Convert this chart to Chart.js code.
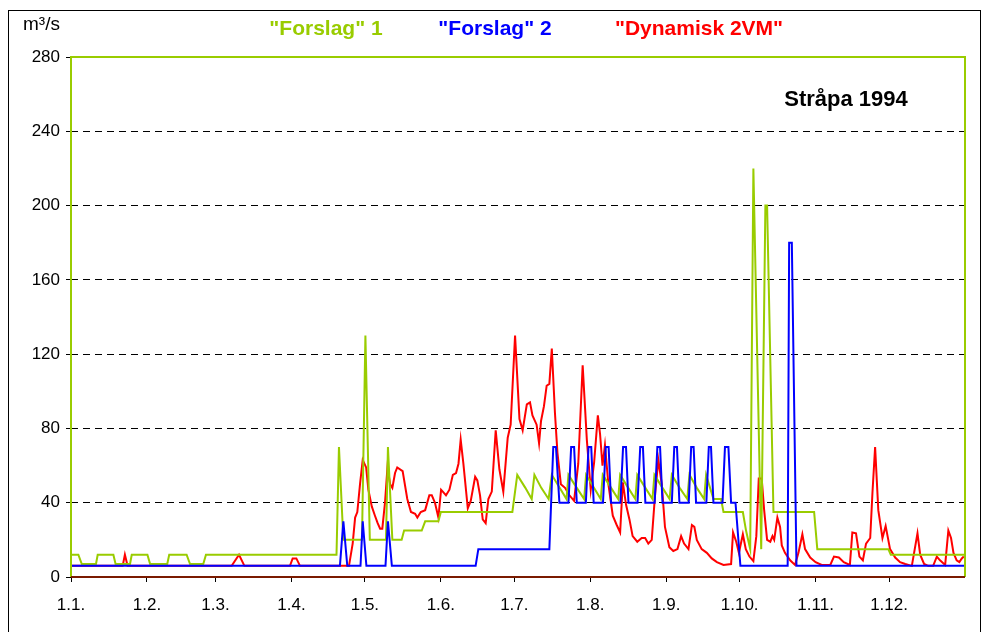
<!DOCTYPE html>
<html>
<head>
<meta charset="utf-8">
<script src="https://cdn.jsdelivr.net/npm/chart.js@4/dist/chart.umd.min.js"></script>
<style>
  body { margin: 0; background: #fff; }
  #wrap { width: 989px; height: 632px; }
</style>
</head>
<body>
<div id="wrap"><canvas id="myChart" width="989" height="632"></canvas></div>
<script>
// day of year (0 = 1.1.) and discharge m3/s
const monthStarts = [0, 31, 59, 90, 120, 151, 181, 212, 243, 273, 304, 334];
const monthLabels = ['1.1.', '1.2.', '1.3.', '1.4.', '1.5.', '1.6.', '1.7.', '1.8.', '1.9.', '1.10.', '1.11.', '1.12.'];
const yTicks = [0, 40, 80, 120, 160, 200, 240, 280];
const seriesNames = ['"Forslag" 1', '"Forslag" 2', '"Dynamisk 2VM"'];

const forslag1 = [
  [0, 12], [3, 12], [4.4, 7], [10.2, 7], [10.9, 12], [17.3, 12], [18.2, 7], [24.1, 7], [24.8, 12],
  [31.2, 12], [32.3, 7], [39.3, 7], [40.1, 12], [47.2, 12], [48.6, 7], [54, 7], [55.1, 12],
  [108.4, 12], [109.4, 70], [111.2, 20], [118.8, 20], [120.2, 130], [122, 20], [128.6, 20],
  [129.4, 70], [131.2, 20], [135, 20], [136, 25], [143.2, 25], [144.6, 30], [150, 30], [151, 35],
  [180.2, 35], [182.2, 55], [185.5, 48], [188.1, 42], [189.2, 55], [192, 48], [195, 42],
  [196.3, 55], [199.5, 48], [202.3, 42], [203.1, 55], [206.5, 48], [209.5, 42], [210.3, 55],
  [213.5, 48], [216.3, 42], [217.1, 55], [220.5, 48], [223.4, 42], [224.2, 55], [227.5, 48],
  [230.4, 42], [231.2, 55], [234.5, 48], [237.4, 42], [238.2, 55], [241.5, 48], [244.4, 42],
  [245.3, 55], [248.5, 48], [251.6, 42], [252.5, 55], [255.5, 48], [258.5, 42], [259.3, 55],
  [262.3, 42], [265.4, 42], [266.4, 35], [274.3, 35], [275.6, 25], [277.3, 15], [278.6, 220],
  [281.8, 15], [283.5, 200], [284.2, 200], [286.8, 35], [303.4, 35], [304.7, 15], [333.7, 15],
  [334.7, 12], [365, 12]
];

const forslag2 = [
  [0, 6], [109.8, 6], [111.2, 30], [112.8, 6], [118.2, 6], [119.1, 30], [120.6, 6], [128.4, 6],
  [129.4, 30], [131, 6], [165.2, 6], [166.3, 15], [195.3, 15], [196.9, 70], [198, 70], [199.4, 40],
  [203.1, 40], [204.2, 70], [205.4, 70], [206.5, 40], [210.2, 40], [211.3, 70], [212.4, 70],
  [213.4, 40], [217.2, 40], [218.3, 70], [219.5, 70], [220.5, 40], [224.3, 40], [225.4, 70],
  [226.6, 70], [227.6, 40], [231.3, 40], [232.4, 70], [233.5, 70], [234.5, 40], [238.3, 40],
  [239.4, 70], [240.5, 70], [241.5, 40], [245.3, 40], [246.3, 70], [247.4, 70], [248.4, 40],
  [252.2, 40], [253.2, 70], [254.2, 70], [255.2, 40], [259.4, 40], [260.4, 70], [261.3, 70],
  [262.3, 40], [266, 40], [267, 70], [268.4, 70], [269.5, 40], [271.3, 40], [273.3, 6],
  [292.6, 6], [293.2, 180], [294.3, 180], [296.2, 6], [365, 6]
];

const dynamisk = [
  [0, 6], [21.1, 6], [22, 12], [23.1, 6], [65.6, 6], [68.6, 12], [70.8, 6], [89.4, 6], [90.5, 10],
  [92, 10], [93.5, 6], [113.5, 6], [115, 18], [116, 32], [116.9, 35], [118, 50], [119.1, 63],
  [120.5, 59], [121.4, 47], [122.8, 38], [124.1, 33], [125.2, 29], [126.2, 26], [127.1, 26],
  [128.2, 40], [129.2, 59], [130.3, 50], [131.2, 48], [132.3, 56], [133.2, 59], [135.4, 57],
  [137.3, 42], [138.8, 35], [140.5, 34], [141.4, 32], [142.8, 35], [144.6, 36], [146.3, 44],
  [147.3, 44], [148.6, 40], [150, 32], [151.1, 47], [151.8, 46], [153.1, 44], [154.5, 47],
  [155.9, 55], [157.2, 56], [158.2, 61], [159.1, 74], [160.2, 61], [162, 37], [163.2, 41],
  [165, 54], [165.9, 52], [167, 44], [168.1, 31], [169.3, 29], [170.4, 42], [171.8, 46],
  [173.4, 79], [174.9, 58], [176.5, 46], [178.3, 75], [179.5, 82], [181.3, 130], [183.1, 85],
  [184.4, 79], [186.1, 93], [187.4, 94], [188.4, 87], [190.1, 82], [191.1, 72], [191.9, 84],
  [193.1, 92], [194.2, 103], [195.3, 104], [196.3, 123], [197.6, 88], [198.6, 67], [200, 50],
  [201.7, 48], [203.5, 44], [205.4, 41], [207.1, 61], [208.9, 114], [210.6, 74], [212.2, 47],
  [213.6, 62], [215.1, 87], [216, 77], [217, 60], [218, 71], [219.4, 50], [221.2, 33],
  [222.8, 28], [224.2, 24], [225.3, 51], [226.6, 39], [228, 31], [229.3, 22], [231.2, 19],
  [233, 21], [234.4, 21], [235.7, 18], [237.1, 20], [238.5, 45], [239.8, 63], [241.2, 50],
  [242.5, 27], [244.3, 16], [245.9, 14], [247.6, 15], [249.1, 22], [250.3, 18], [252.1, 15],
  [253.5, 28], [254.5, 27], [255.5, 20], [257.5, 15], [259.6, 13], [261.6, 10], [263.7, 8],
  [266.4, 6.5], [269.5, 7], [270.3, 24], [271.6, 19], [272.7, 13], [274.3, 23], [275.5, 15],
  [277, 11], [278.6, 8.5], [279.8, 22], [280.8, 53], [282, 53], [283, 36], [284.2, 20],
  [285.5, 19], [286.4, 22], [287.1, 20], [288.4, 32], [289.5, 27], [290.2, 17], [291.5, 13],
  [293.6, 9], [295.6, 6.5], [297, 13], [298.6, 23], [299.7, 15], [301.8, 10.5], [304, 8],
  [306.5, 6.5], [310, 6.5], [311.5, 11], [313.5, 10.5], [315.5, 8], [318, 6.5], [319, 24],
  [320.5, 23.5], [321.9, 11], [323.3, 9], [324.6, 18], [326.3, 21], [327.2, 45], [328.3, 70],
  [329.6, 36], [331.3, 21], [332.6, 27.5], [334.4, 15], [336.5, 10.5], [338.5, 8], [340.6, 7],
  [343.3, 6], [345.6, 23.5], [346.7, 12], [348.3, 7], [350, 6], [352, 6], [353.5, 11],
  [354.8, 9], [356.9, 6.5], [358.2, 25], [359.3, 21], [360.3, 13], [361.6, 9], [362.7, 8],
  [363.7, 10], [364.5, 11]
];

const GREEN = '#99cc00', BLUE = '#0000ff', RED = '#ff0000';
const FONT = '"Liberation Sans", Arial, sans-serif';

const toXY = arr => arr.map(p => ({ x: p[0], y: p[1] }));

// frame, axis line, header texts
const decor = {
  id: 'decor',
  beforeDraw(chart) {
    const ctx = chart.ctx;
    ctx.save();
    ctx.fillStyle = '#fff';
    ctx.fillRect(0, 0, chart.width, chart.height);
    ctx.restore();
  },
  afterDraw(chart) {
    const { ctx, chartArea: a } = chart;
    ctx.save();
    ctx.lineWidth = 2;
    ctx.strokeStyle = GREEN;
    ctx.beginPath();
    ctx.moveTo(a.left, a.bottom);
    ctx.lineTo(a.left, a.top);
    ctx.lineTo(a.right, a.top);
    ctx.lineTo(a.right, a.bottom);
    ctx.stroke();
    ctx.strokeStyle = '#7a1a00';
    ctx.beginPath();
    ctx.moveTo(a.left, a.bottom);
    ctx.lineTo(a.right, a.bottom);
    ctx.stroke();

    ctx.lineWidth = 1;
    ctx.strokeStyle = '#000';
    ctx.strokeRect(8.5, 10.5, 972, 640);

    ctx.textBaseline = 'middle';
    ctx.fillStyle = '#000';
    ctx.font = '19px ' + FONT;
    ctx.textAlign = 'left';
    ctx.fillText('m³/s', 23, 25);

    ctx.font = 'bold 21px ' + FONT;
    ctx.textAlign = 'center';
    const legendX = [326, 495, 699];
    const colors = [GREEN, BLUE, RED];
    seriesNames.forEach((n, i) => {
      ctx.fillStyle = colors[i];
      ctx.fillText(n, legendX[i], 29);
    });

    ctx.fillStyle = '#000';
    ctx.font = 'bold 22px ' + FONT;
    ctx.fillText('Stråpa 1994', 846, 100);
    ctx.restore();
  }
};

const ctx = document.getElementById('myChart').getContext('2d');
var myChart = new Chart(ctx, {
  type: 'line',
  data: {
    datasets: [{
      label: seriesNames[0],
      data: toXY(forslag1),
      borderColor: GREEN,
      order: 1
    }, {
      label: seriesNames[1],
      data: toXY(forslag2),
      borderColor: BLUE,
      order: 0
    }, {
      label: seriesNames[2],
      data: toXY(dynamisk),
      borderColor: RED,
      order: 2
    }]
  },
  options: {
    responsive: false,
    animation: false,
    layout: { padding: { left: 0, top: 57, right: 24, bottom: 0 } },
    elements: {
      line: { borderWidth: 2, tension: 0, fill: false },
      point: { radius: 0 }
    },
    plugins: {
      legend: { display: false },
      tooltip: { enabled: false }
    },
    scales: {
      x: {
        type: 'linear',
        min: 0,
        max: 365,
        afterBuildTicks: scale => { scale.ticks = monthStarts.map(v => ({ value: v })); },
        afterFit: scale => { scale.height = 55; },
        grid: { drawOnChartArea: false, drawTicks: true, tickLength: 5, tickColor: '#000' },
        border: { display: false },
        ticks: {
          padding: 13,
          maxRotation: 0,
          autoSkip: false,
          color: '#000',
          font: { family: FONT, size: 17 },
          callback: v => monthLabels[monthStarts.indexOf(v)]
        }
      },
      y: {
        min: 0,
        max: 280,
        afterBuildTicks: scale => { scale.ticks = yTicks.map(v => ({ value: v })); },
        afterFit: scale => { scale.width = 71; },
        grid: {
          color: c => (c.tick && (c.tick.value === 0 || c.tick.value === 280)) ? 'rgba(0,0,0,0)' : '#000',
          tickColor: '#000',
          tickLength: 5,
          lineWidth: 1
        },
        border: { display: false, dash: [7, 5] },
        ticks: {
          padding: 6,
          color: '#000',
          font: { family: FONT, size: 17 }
        }
      }
    }
  },
  plugins: [decor]
});
</script>
</body>
</html>
